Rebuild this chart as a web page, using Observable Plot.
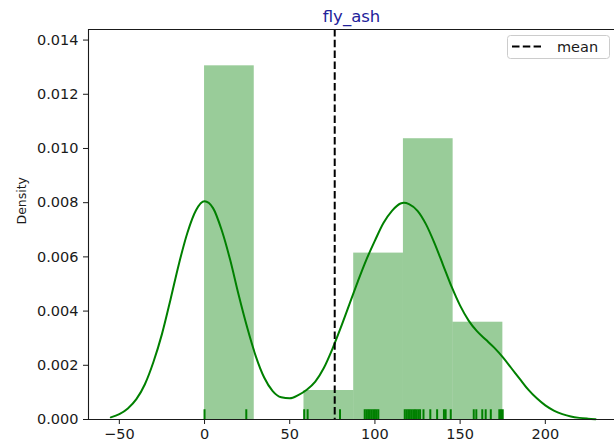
<!DOCTYPE html>
<html>
<head>
<meta charset="utf-8">
<script src="https://cdn.jsdelivr.net/npm/d3@7"></script>
<script src="https://cdn.jsdelivr.net/npm/@observablehq/plot@0.6"></script>
<style>
  html, body { margin: 0; padding: 0; background: #fff; }
  #chart { width: 614px; height: 444px; }
</style>
</head>
<body>
<div id="chart"></div>
<script>
// Distribution of fly_ash: density histogram, KDE curve, rug and mean line.
const binEdges = [0, 29.18, 58.36, 87.54, 116.72, 145.9, 175.08];
const binDensity = [0.01305, 0, 0.00107, 0.00614, 0.01036, 0.00359];

// Distinct observed values shown as rug ticks
const rugValues = [0, 24.5, 58.5, 60.5, 79.5, 94, 95, 96, 97, 98, 99, 100, 101, 102,
  117.5, 118.5, 119.5, 120.5, 121.5, 122.5, 123.5, 124.5, 125.5, 126.5,
  128.5, 132.5, 136.5, 140.5, 141.5, 144.5, 158, 159.5, 163, 165, 168, 173, 174, 175];

// Kernel density estimate, sampled along x
const kdeX = [-55, -50, -45, -40, -35, -30, -25, -20, -15, -10, -5, 0, 5, 10, 15, 20, 25, 30,
  35, 40, 45, 50, 55, 60, 65, 70, 75, 80, 85, 90, 95, 100, 105, 110, 115, 117, 120, 125, 130,
  135, 140, 145, 150, 155, 160, 165, 170, 175, 180, 185, 190, 195, 200, 205, 210, 215, 220, 225, 229.5];
const kdeY = [0.00008, 0.00020, 0.00041, 0.00075, 0.00130, 0.00212, 0.00315, 0.00442, 0.00575,
  0.00690, 0.00772, 0.00805, 0.00780, 0.00700, 0.00590, 0.00460, 0.00340, 0.00235,
  0.00155, 0.00105, 0.00082, 0.00078, 0.00090, 0.00110, 0.00140, 0.00190, 0.00260, 0.00340,
  0.00425, 0.00510, 0.00590, 0.00660, 0.00725, 0.00770, 0.00797, 0.00800, 0.00795, 0.00770,
  0.00720, 0.00650, 0.00570, 0.00490, 0.00420, 0.00365, 0.00325, 0.00295, 0.00265, 0.00230,
  0.00190, 0.00150, 0.00110, 0.00078, 0.00052, 0.00033, 0.00020, 0.00011, 0.00006, 0.00003, 0.00001];

const meanValue = 76.4;

const xTicks = [-50, 0, 50, 100, 150, 200];
const yTicks = [0, 0.002, 0.004, 0.006, 0.008, 0.010, 0.012, 0.014];

const xDomain = [-68.1, 240.6];
const yDomain = [0, 0.01439];

const bins = binDensity.map((d, i) => ({x1: binEdges[i], x2: binEdges[i + 1], density: d}));
const kde = kdeX.map((x, i) => ({x, y: kdeY[i]}));
const rugTop = 0.025 * yDomain[1];

const spine = "#1a1a1a";
const dash = "7.5,3.3";

const chart = Plot.plot({
  width: 614,
  height: 444,
  marginLeft: 88,
  marginRight: 0,
  marginTop: 29,
  marginBottom: 25,
  style: {fontFamily: "'DejaVu Sans', sans-serif", fontSize: "14.5px", color: "#1a1a1a", background: "#fff"},
  x: {domain: xDomain, ticks: xTicks, tickSize: 5, tickPadding: 4, label: null, tickFormat: d => d < 0 ? "\u2212" + Math.abs(d) : String(d)},
  y: {domain: yDomain, ticks: yTicks, tickSize: 5, tickPadding: 5, label: null, tickFormat: d3.format(".3f")},
  marks: [
    Plot.rectY(bins, {x1: "x1", x2: "x2", y: "density", fill: "green", fillOpacity: 0.4, inset: 0}),
    Plot.ruleX(rugValues, {x: d => d, y1: 0, y2: rugTop, stroke: "green", strokeWidth: 2}),
    Plot.line(kde, {x: "x", y: "y", stroke: "green", strokeWidth: 2, curve: "monotone-x"}),
    Plot.ruleX([meanValue], {stroke: "black", strokeWidth: 2, strokeDasharray: dash}),
    Plot.ruleY([yDomain[0]], {stroke: spine, strokeWidth: 1.1}),
    Plot.ruleY([yDomain[1]], {stroke: spine, strokeWidth: 1.1}),
    Plot.ruleX([xDomain[0]], {stroke: spine, strokeWidth: 1.1}),
    Plot.text(["fly_ash"], {frameAnchor: "top", lineAnchor: "middle", dy: -13, fill: "#22229a", fontSize: 16.5}),
    Plot.text(["Density"], {frameAnchor: "left", lineAnchor: "middle", dx: -67, rotate: -90, fontSize: 12.5, fill: "#1a1a1a"})
  ]
});

// Legend box in the upper right corner of the axes
const svg = d3.select(chart);
const lg = svg.append("g").attr("transform", "translate(507,35)");
lg.append("rect")
  .attr("x", 0.5).attr("y", 0.5).attr("width", 102).attr("height", 23)
  .attr("rx", 3).attr("fill", "white").attr("fill-opacity", 0.8)
  .attr("stroke", "#cccccc").attr("stroke-width", 1);
lg.append("line")
  .attr("x1", 5).attr("x2", 34).attr("y1", 11.5).attr("y2", 11.5)
  .attr("stroke", "black").attr("stroke-width", 2).attr("stroke-dasharray", dash);
lg.append("text")
  .attr("x", 50).attr("y", 16.5)
  .attr("text-anchor", "start")
  .attr("fill", "#1a1a1a").attr("font-size", 14.5)
  .text("mean");

document.getElementById("chart").appendChild(chart);
</script>
</body>
</html>
